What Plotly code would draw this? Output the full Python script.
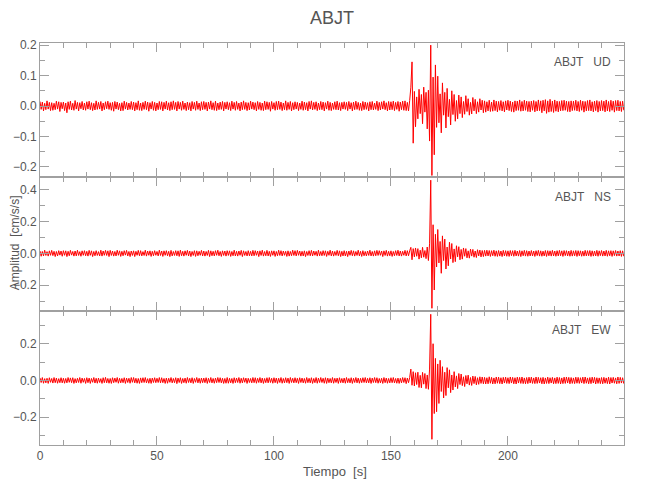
import numpy as np
import plotly.graph_objects as go
from plotly.subplots import make_subplots

# Sampling interval of the traces [s]
DT = 0.5
# Amplitudes in units of 0.001 cm/s/s
UD = [
    15,-11,13,-16,9,-12,17,-10,12,-15,11,-14,9,-12,16,-10,14,-18,12,-9,
    13,-15,10,-22,14,-11,16,-13,9,-14,18,-10,12,-16,11,-9,15,-13,10,-14,
    14,-10,16,-12,11,-15,9,-13,17,-11,12,-10,15,-16,10,-12,14,-9,16,-11,
    11,-14,12,-17,15,-10,13,-12,9,-16,11,-15,16,-10,12,-13,10,-11,15,-12,
    13,-16,11,-12,17,-14,10,-15,12,-11,16,-12,13,-17,11,-10,15,-14,12,-16,
    10,-12,15,-11,14,-16,12,-10,16,-13,11,-15,14,-12,17,-11,12,-16,15,-10,
    12,-14,16,-11,10,-15,13,-12,11,-16,15,-10,12,-14,16,-11,10,-15,14,-12,
    15,-11,12,-16,13,-10,17,-12,11,-14,16,-15,10,-12,13,-11,15,-16,12,-10,
    14,-12,11,-15,16,-10,12,-14,15,-11,10,-16,13,-12,17,-11,12,-15,11,-13,
    16,-10,13,-12,11,-16,15,-11,12,-14,10,-15,16,-12,14,-11,12,-17,15,-10,
    11,-14,15,-12,16,-11,13,-15,10,-12,17,-14,12,-11,15,-16,11,-12,14,-10,
    12,-15,10,-11,16,-14,13,-12,11,-16,15,-10,17,-13,12,-11,14,-15,10,-12,
    15,-12,13,-16,11,-10,16,-14,12,-15,10,-11,14,-12,16,-13,11,-15,12,-10,
    14,-11,12,-15,15,-10,11,-16,13,-12,16,-11,12,-14,10,-15,15,-12,13,-11,
    11,-16,14,-12,15,-13,10,-11,16,-15,12,-13,14,-10,17,-12,11,-16,15,-13,
    14,-12,16,-15,12,-11,15,-17,13,-12,16,-14,17,-15,12,-16,18,62,145,-122,
    48,-68,30,-42,55,-25,38,-58,62,-20,45,-75,52,-115,200,-228,95,-160,135,-70,
    98,-55,40,-88,76,-30,45,-72,58,-35,22,-62,50,-28,38,-50,18,-42,36,-25,
    30,-38,15,-27,34,-18,24,-30,12,-26,28,-16,22,-25,14,-20,24,-13,19,-22,
    17,-20,14,-16,19,-18,13,-17,20,-15,16,-19,15,-14,18,-16,14,-19,17,-13,
    19,-15,16,-18,13,-20,17,-15,16,-14,20,-17,15,-16,19,-14,16,-18,15,-19,
    16,-14,18,-19,15,-16,20,-15,17,-22,19,-16,21,-24,17,-20,22,-18,16,-21,
    20,-17,16,-19,15,-16,18,-15,19,-14,16,-18,15,-19,17,-15,16,-14,19,-16,
    15,-18,19,-14,16,-20,15,-16,18,-15,20,-16,14,-19,16,-15,18,-20,15,-16,
    18,-15,16,-19,20,-16,15,-18,19,-14,16,-20,18,-15,19,-16,15,-18,16,-14,
]
NS = [
    15,-18,12,-16,20,-13,11,-17,16,-12,19,-14,13,-20,12,-16,17,-11,15,-18,
    17,-12,16,-20,13,-15,19,-11,12,-17,15,-16,20,-13,11,-18,16,-12,17,-15,
    13,-17,19,-12,16,-20,12,-15,17,-13,11,-16,20,-17,15,-12,19,-13,16,-20,
    19,-13,15,-17,12,-16,20,-12,16,-19,13,-15,17,-11,19,-16,12,-20,15,-13,
    16,-20,13,-12,19,-15,17,-16,11,-13,20,-17,15,-12,16,-19,13,-15,17,-12,
    12,-16,20,-13,15,-19,16,-12,17,-15,13,-20,19,-16,12,-13,17,-15,16,-19,
    20,-15,13,-17,16,-12,19,-16,15,-20,12,-13,17,-19,16,-15,13,-12,19,-16,
    15,-17,12,-13,19,-20,16,-15,13,-16,17,-12,20,-15,12,-19,16,-13,15,-17,
    17,-13,16,-19,12,-15,20,-16,13,-17,15,-12,19,-20,16,-13,12,-16,17,-15,
    13,-16,19,-15,17,-12,15,-20,16,-13,20,-17,12,-15,19,-16,13,-19,16,-12,
    16,-19,12,-15,20,-13,17,-16,15,-12,13,-19,16,-17,12,-15,20,-13,17,-16,
    19,-12,15,-17,13,-16,16,-20,12,-13,17,-15,19,-16,15,-12,13,-17,20,-15,
    12,-15,17,-13,16,-19,13,-12,20,-16,15,-17,12,-13,19,-15,16,-20,13,-16,
    17,-16,13,-20,15,-12,19,-15,16,-17,12,-13,20,-16,13,-19,17,-15,12,-16,
    15,-13,20,-16,12,-17,16,-15,19,-13,17,-12,15,-20,16,-13,19,-17,13,-15,
    16,-19,12,-15,17,-13,20,-16,15,-17,13,-12,19,-16,17,-15,16,38,-40,30,
    -22,34,-18,30,-36,20,-28,38,-24,18,-33,40,-45,60,460,-345,180,-230,120,-85,
    150,-60,75,-125,110,-45,90,-98,40,-78,70,-35,62,-58,28,-52,48,-22,42,-40,
    25,-36,34,-18,30,-28,16,-30,27,-17,25,-24,15,-26,23,-16,21,-22,18,-20,
    19,-17,20,-16,18,-19,17,-15,20,-18,16,-19,18,-17,15,-20,19,-16,17,-18,
    16,-19,18,-15,17,-18,19,-16,15,-17,18,-20,16,-15,19,-17,17,-18,15,-16,
    18,-16,15,-19,17,-14,19,-17,16,-18,14,-16,18,-19,17,-15,16,-17,19,-16,
    15,-18,17,-16,19,-15,16,-19,18,-14,17,-16,15,-18,19,-17,16,-15,18,-19,
    17,-15,16,-18,14,-17,19,-16,17,-15,18,-19,16,-17,15,-16,19,-18,16,-14,
    18,-17,15,-16,19,-18,16,-15,17,-19,16,-14,18,-17,15,-16,17,-19,16,-18,
]
EW = [
    14,-11,16,-15,10,-13,12,-16,15,-10,11,-14,16,-12,13,-15,10,-12,15,-13,
    12,-15,11,-13,16,-10,14,-12,15,-16,10,-13,12,-11,16,-15,13,-10,11,-16,
    15,-12,13,-16,11,-10,16,-14,12,-15,13,-11,10,-16,15,-12,17,-13,11,-15,
    11,-16,15,-12,13,-10,16,-15,12,-13,11,-12,15,-16,13,-11,12,-15,16,-10,
    16,-13,12,-15,11,-16,14,-12,15,-11,16,-13,10,-15,12,-16,13,-11,15,-12,
    12,-11,16,-13,15,-12,11,-16,13,-15,12,-10,16,-13,11,-12,15,-17,13,-11,
    15,-16,11,-12,13,-15,16,-11,12,-13,15,-16,11,-10,16,-13,12,-15,13,-12,
    13,-12,15,-16,12,-11,16,-13,11,-15,13,-12,16,-11,15,-13,12,-16,11,-15,
    16,-15,12,-13,11,-16,15,-12,13,-11,16,-15,12,-13,15,-10,13,-16,12,-11,
    11,-13,16,-12,15,-15,12,-11,16,-13,13,-16,11,-12,15,-13,16,-11,12,-15,
    15,-12,13,-16,12,-11,16,-15,11,-13,15,-12,13,-16,16,-11,12,-13,15,-12,
    12,-16,15,-11,13,-13,11,-15,16,-12,12,-13,15,-16,11,-12,16,-15,13,-11,
    16,-11,12,-15,15,-16,13,-12,11,-13,16,-15,12,-11,13,-16,15,-12,11,-13,
    13,-15,16,-12,11,-13,15,-16,12,-11,16,-13,13,-15,12,-12,15,-11,16,-13,
    12,-13,15,-16,13,-11,16,-12,15,-15,11,-13,12,-16,16,-12,13,-15,11,-13,
    15,-12,16,-13,11,-15,13,-16,12,-13,16,-11,15,-17,13,-12,16,62,-26,48,
    -30,42,-22,45,-38,28,-40,44,-20,38,-44,30,-48,62,360,-320,200,-180,120,-170,
    90,-125,110,-60,75,-95,45,-82,70,-40,58,-66,30,-52,48,-35,25,-44,38,-22,
    35,-28,20,-33,27,-18,29,-25,16,-27,24,-17,22,-24,15,-21,20,-16,19,-18,
    17,-19,15,-18,20,-15,17,-19,14,-18,19,-15,18,-17,15,-19,17,-14,18,-16,
    15,-17,19,-14,17,-18,15,-19,18,-14,17,-16,19,-17,14,-18,16,-17,18,-14,
    18,-16,14,-17,19,-16,17,-14,15,-18,17,-19,14,-16,18,-17,15,-14,17,-18,
    14,-17,18,-16,16,-19,14,-17,18,-16,19,-14,17,-18,16,-16,14,-17,18,-15,
    17,-16,15,-14,18,-17,19,-15,14,-18,16,-17,18,-14,17,-19,15,-16,14,-17,
    16,-18,17,-15,14,-17,18,-19,16,-14,17,-15,14,-18,19,-16,17,-14,15,-17,
]
STATION = "ABJT"
COMPONENTS = ["UD", "NS", "EW"]
Y_RANGES = [[-0.233, 0.207], [-0.362, 0.48], [-0.351, 0.378]]
Y_DTICK = [0.1, 0.2, 0.2]
Y_MINOR = [0.05, 0.1, 0.1]
X_RANGE = [0, 249.6]

FONT = "Liberation Sans, Arial, sans-serif"
TXT = "#555555"
AX = "#a0a0a0"

fig = make_subplots(rows=3, cols=1, shared_xaxes=True, vertical_spacing=0)

for r, vals in enumerate([UD, NS, EW], start=1):
    y = np.array(vals, dtype=float) * 0.001
    t = np.arange(len(y)) * DT
    fig.add_trace(go.Scatter(x=t, y=y, mode="lines",
                             line=dict(color="#ff0000", width=1),
                             showlegend=False, hoverinfo="skip"),
                  row=r, col=1)
    fig.update_xaxes(range=X_RANGE, showline=True, linecolor=AX, linewidth=1,
                     mirror="ticks", ticks="inside", ticklen=9, tickcolor=AX,
                     tick0=0, dtick=50, showgrid=False, zeroline=False, automargin=False,
                     minor=dict(dtick=10, ticklen=5, ticks="inside", tickcolor=AX),
                     tickfont=dict(family=FONT, size=12, color=TXT),
                     row=r, col=1)
    fig.update_yaxes(range=Y_RANGES[r - 1], showline=True, linecolor=AX, linewidth=1,
                     mirror="ticks", ticks="inside", ticklen=9, tickcolor=AX,
                     tick0=0, dtick=Y_DTICK[r - 1], tickformat=".1f",
                     showgrid=False, zeroline=False, automargin=False,
                     minor=dict(dtick=Y_MINOR[r - 1], ticklen=5, ticks="inside", tickcolor=AX),
                     tickfont=dict(family=FONT, size=12, color=TXT),
                     row=r, col=1)

ann = []
panel_label_y = [0.953, 0.617, 0.286]
for comp, py in zip(COMPONENTS, panel_label_y):
    ann.append(dict(text=f"{STATION}&nbsp;&nbsp;&nbsp;{comp}", x=0.982, y=py,
                    xref="paper", yref="paper", xanchor="right", yanchor="middle",
                    showarrow=False, font=dict(family=FONT, size=12, color=TXT)))
ann.append(dict(text=STATION, x=0.5, y=1.062, xref="paper", yref="paper",
                xanchor="center", yanchor="middle", showarrow=False,
                font=dict(family=FONT, size=18, color=TXT)))
ann.append(dict(text="Amplitud&nbsp;&nbsp;[cm/s/s]", x=-0.0425, y=0.5025, xref="paper", yref="paper",
                xanchor="center", yanchor="middle", textangle=-90, showarrow=False,
                font=dict(family=FONT, size=12, color=TXT)))
ann.append(dict(text="Tiempo&nbsp;&nbsp;[s]", x=0.505, y=-0.066, xref="paper", yref="paper",
                xanchor="center", yanchor="middle", showarrow=False,
                font=dict(family=FONT, size=13, color=TXT)))

# the page adds an 8 px body margin, so the plot area is placed accordingly
fig.update_layout(width=650, height=500,
                  margin=dict(l=32, r=34, t=35, b=63),
                  paper_bgcolor="white", plot_bgcolor="white",
                  annotations=ann, showlegend=False)

fig.write_html("out.html")
